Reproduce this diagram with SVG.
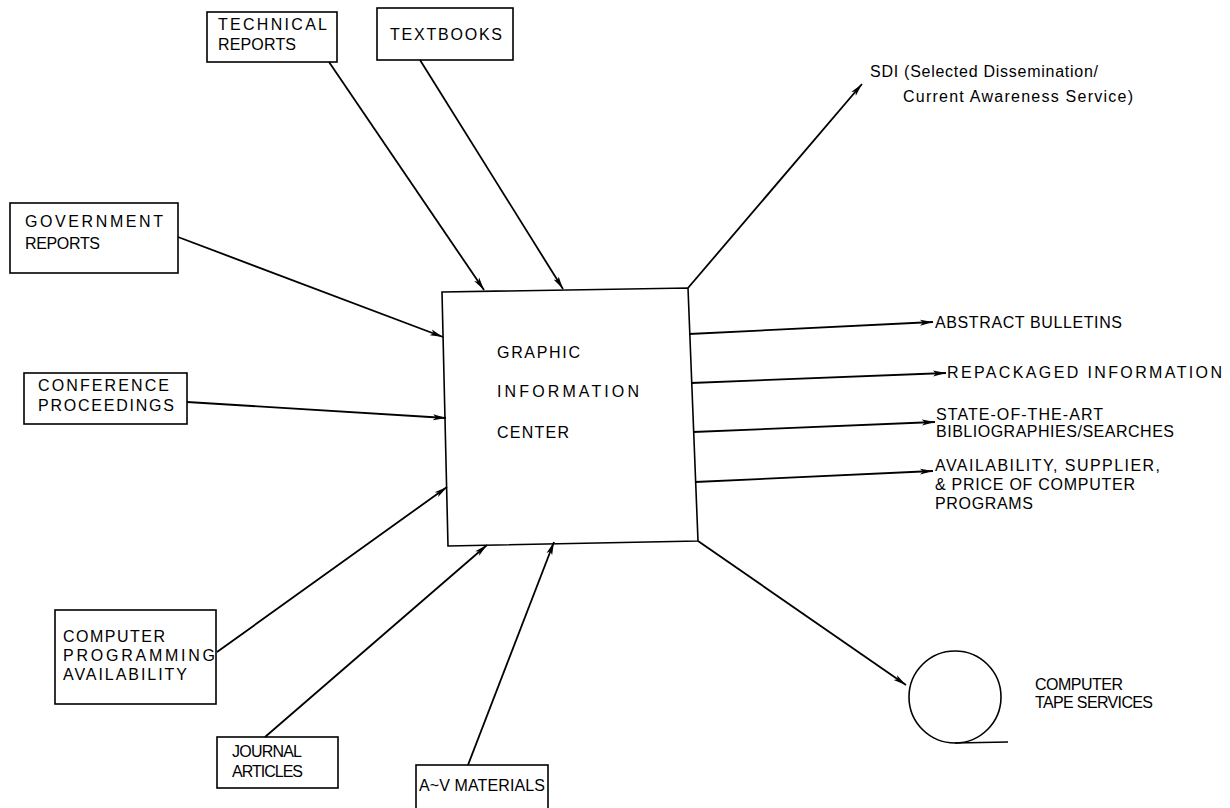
<svg xmlns="http://www.w3.org/2000/svg" width="1230" height="808" viewBox="0 0 1230 808">
<style>
.box{fill:none;stroke:#000;stroke-width:1.6}
.t{font-family:"Liberation Sans",Arial,sans-serif;font-size:16px;fill:#000}
.c{stroke:#000;stroke-width:1.8;fill:none}
</style>
<defs>
<marker id="ah" markerUnits="userSpaceOnUse" markerWidth="14" markerHeight="8" refX="13" refY="4" orient="auto">
<path d="M0,1 L13,4 L0,7 L3,4 Z" fill="#000"/>
</marker>
</defs>
<rect width="1230" height="808" fill="#fff"/>
<g id="connectors">
<line class="c" x1="329" y1="62" x2="484" y2="290" marker-end="url(#ah)"/>
<line class="c" x1="420" y1="60" x2="563" y2="289" marker-end="url(#ah)"/>
<line class="c" x1="178" y1="237" x2="443" y2="337" marker-end="url(#ah)"/>
<line class="c" x1="187" y1="402" x2="446" y2="418" marker-end="url(#ah)"/>
<line class="c" x1="217" y1="652" x2="447" y2="487" marker-end="url(#ah)"/>
<line class="c" x1="265" y1="737" x2="487" y2="545" marker-end="url(#ah)"/>
<line class="c" x1="468" y1="765" x2="554" y2="542" marker-end="url(#ah)"/>
<line class="c" x1="688" y1="288" x2="862" y2="84" marker-end="url(#ah)"/>
<line class="c" x1="689" y1="334" x2="933" y2="322" marker-end="url(#ah)"/>
<line class="c" x1="691" y1="383" x2="946" y2="373" marker-end="url(#ah)"/>
<line class="c" x1="693" y1="432" x2="935" y2="422" marker-end="url(#ah)"/>
<line class="c" x1="695" y1="482" x2="933" y2="471" marker-end="url(#ah)"/>
<line class="c" x1="698" y1="541" x2="906" y2="685" marker-end="url(#ah)"/>
</g>
<g id="center">
<polygon class="box" points="442,292 688,288 698,541 448,546"/>
<text class="t" x="497" y="358" textLength="83" lengthAdjust="spacing">GRAPHIC</text>
<text class="t" x="497" y="397" textLength="142" lengthAdjust="spacing">INFORMATION</text>
<text class="t" x="497" y="438" textLength="72" lengthAdjust="spacing">CENTER</text>
</g>
<g id="technical-reports">
<rect class="box" x="207" y="12" width="130" height="50"/>
<text class="t" x="218" y="30" textLength="109" lengthAdjust="spacing">TECHNICAL</text>
<text class="t" x="218" y="50" textLength="78" lengthAdjust="spacing">REPORTS</text>
</g>
<g id="textbooks">
<rect class="box" x="377" y="8" width="136" height="52"/>
<text class="t" x="390" y="40" textLength="112" lengthAdjust="spacing">TEXTBOOKS</text>
</g>
<g id="government-reports">
<rect class="box" x="10" y="203" width="168" height="70"/>
<text class="t" x="25" y="227" textLength="138" lengthAdjust="spacing">GOVERNMENT</text>
<text class="t" x="25" y="249" textLength="75" lengthAdjust="spacing">REPORTS</text>
</g>
<g id="conference-proceedings">
<rect class="box" x="24" y="373" width="163" height="51"/>
<text class="t" x="38" y="391" textLength="131" lengthAdjust="spacing">CONFERENCE</text>
<text class="t" x="38" y="411" textLength="136" lengthAdjust="spacing">PROCEEDINGS</text>
</g>
<g id="computer-programming">
<rect class="box" x="55" y="610" width="161" height="94"/>
<text class="t" x="63" y="642" textLength="102" lengthAdjust="spacing">COMPUTER</text>
<text class="t" x="63" y="661" textLength="152" lengthAdjust="spacing">PROGRAMMING</text>
<text class="t" x="63" y="680" textLength="124" lengthAdjust="spacing">AVAILABILITY</text>
</g>
<g id="journal-articles">
<rect class="box" x="217" y="737" width="121" height="51"/>
<text class="t" x="232" y="757" textLength="70" lengthAdjust="spacing">JOURNAL</text>
<text class="t" x="232" y="777" textLength="71" lengthAdjust="spacing">ARTICLES</text>
</g>
<g id="av-materials">
<rect class="box" x="416" y="765" width="132" height="45"/>
<text class="t" x="419" y="791" textLength="126" lengthAdjust="spacing">A~V MATERIALS</text>
</g>
<g id="sdi">
<text class="t" x="870" y="77" textLength="228" lengthAdjust="spacing">SDI (Selected Dissemination/</text>
<text class="t" x="903" y="102" textLength="230" lengthAdjust="spacing">Current Awareness Service)</text>
</g>
<g id="abstract-bulletins">
<text class="t" x="935" y="328" textLength="187" lengthAdjust="spacing">ABSTRACT BULLETINS</text>
</g>
<g id="repackaged-information">
<text class="t" x="947" y="378" textLength="275" lengthAdjust="spacing">REPACKAGED INFORMATION</text>
</g>
<g id="state-of-the-art">
<text class="t" x="936" y="420" textLength="167" lengthAdjust="spacing">STATE-OF-THE-ART</text>
<text class="t" x="936" y="437" textLength="238" lengthAdjust="spacing">BIBLIOGRAPHIES/SEARCHES</text>
</g>
<g id="availability">
<text class="t" x="935" y="471" textLength="225" lengthAdjust="spacing">AVAILABILITY, SUPPLIER,</text>
<text class="t" x="935" y="490" textLength="200" lengthAdjust="spacing">&amp; PRICE OF COMPUTER</text>
<text class="t" x="935" y="509" textLength="98" lengthAdjust="spacing">PROGRAMS</text>
</g>
<g id="computer-tape">
<circle class="box" cx="955" cy="697" r="46"/>
<line class="box" x1="955" y1="743" x2="1008" y2="742"/>
<text class="t" x="1035" y="690" textLength="88" lengthAdjust="spacing">COMPUTER</text>
<text class="t" x="1035" y="708" textLength="118" lengthAdjust="spacing">TAPE SERVICES</text>
</g>
</svg>
